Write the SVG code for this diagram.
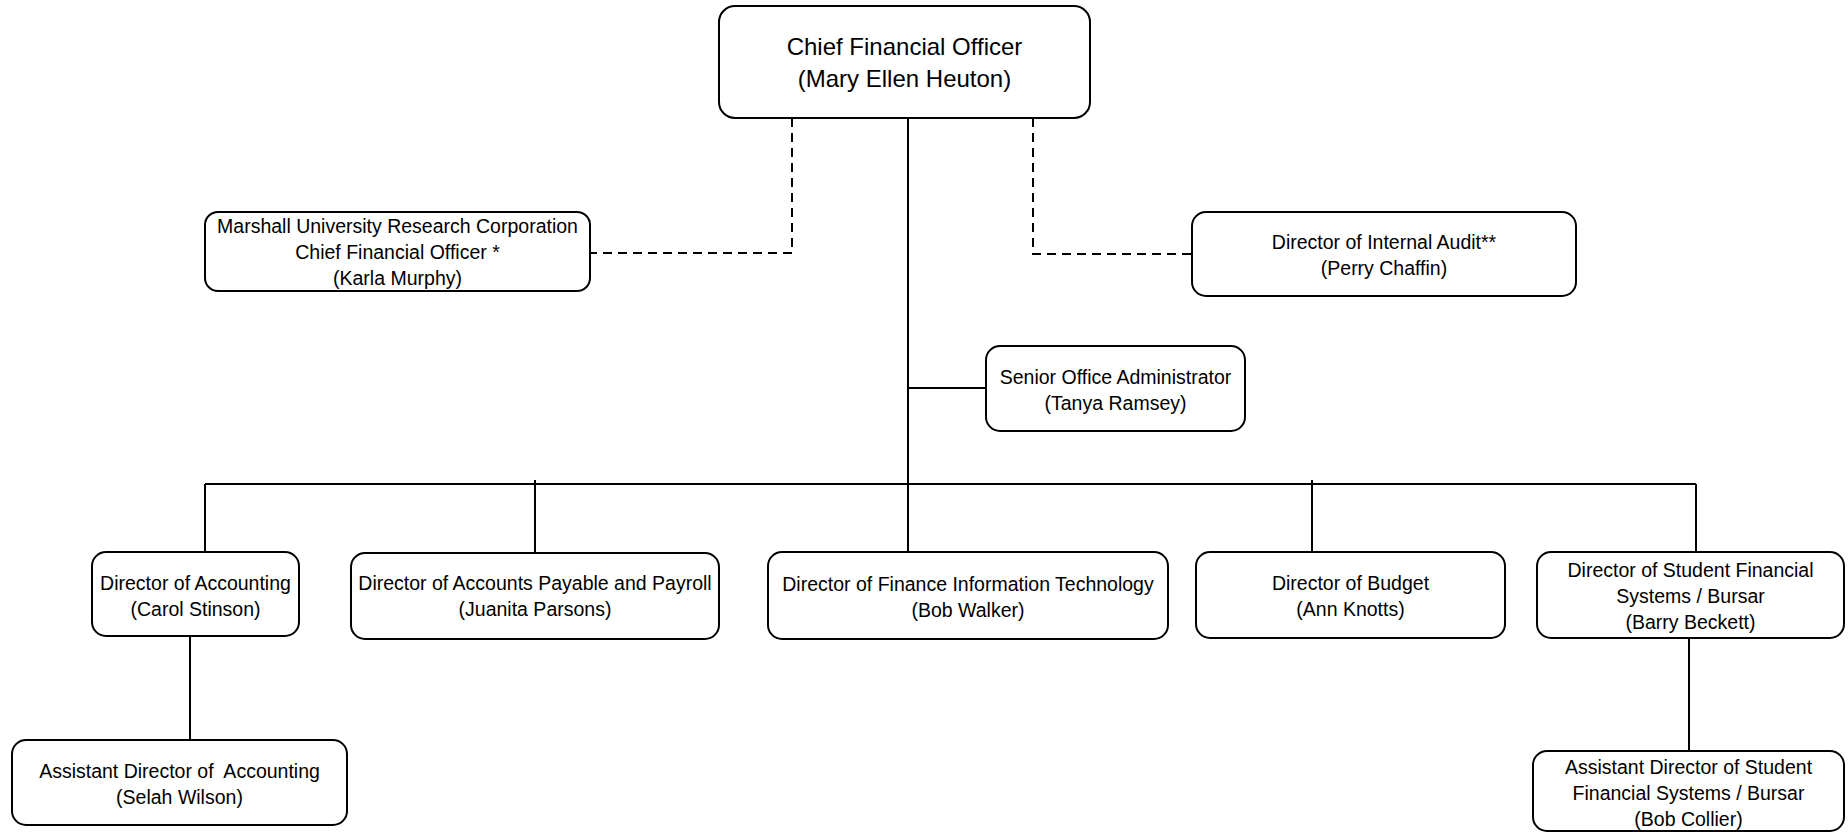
<svg xmlns="http://www.w3.org/2000/svg" width="1848" height="832" viewBox="0 0 1848 832">
<style>
.box{fill:#fff;stroke:#000;stroke-width:2}
.t{font-family:"Liberation Sans",Arial,sans-serif;font-size:19.5px;fill:#000;text-anchor:middle}
.big{font-size:24px}
.c{fill:none;stroke:#000;stroke-width:2}
.d{fill:none;stroke:#000;stroke-width:2;stroke-dasharray:9 6}
</style>
<rect width="1848" height="832" fill="#fff"/>
<g id="connectors">
<path class="c" d="M908,118 V552"/>
<path class="c" d="M908,388 H986"/>
<path class="c" d="M205,484 H1696"/>
<path class="c" d="M205,484 V552"/>
<path class="c" d="M535,480 V553"/>
<path class="c" d="M1312,480 V552"/>
<path class="c" d="M1696,484 V552"/>
<path class="c" d="M190,636 V740"/>
<path class="c" d="M1689,638 V751"/>
<path class="d" d="M792,118 V253 H590"/>
<path class="d" d="M1033,118 V254 H1192"/>
</g>
<g id="cfo">
<rect class="box" x="719" y="6" width="371" height="112" rx="16"/>
<text class="t big" x="904.5" y="55">Chief Financial Officer</text>
<text class="t big" x="904.5" y="87">(Mary Ellen Heuton)</text>
</g>
<g id="murc">
<rect class="box" x="205" y="212" width="385" height="79" rx="13"/>
<text class="t" x="397.5" y="233">Marshall University Research Corporation</text>
<text class="t" x="397.5" y="259">Chief Financial Officer *</text>
<text class="t" x="397.5" y="285">(Karla Murphy)</text>
</g>
<g id="audit">
<rect class="box" x="1192" y="212" width="384" height="84" rx="14"/>
<text class="t" x="1384" y="249">Director of Internal Audit**</text>
<text class="t" x="1384" y="275">(Perry Chaffin)</text>
</g>
<g id="senior">
<rect class="box" x="986" y="346" width="259" height="85" rx="14"/>
<text class="t" x="1115.5" y="384">Senior Office Administrator</text>
<text class="t" x="1115.5" y="410">(Tanya Ramsey)</text>
</g>
<g id="accounting">
<rect class="box" x="92" y="552" width="207" height="84" rx="14"/>
<text class="t" x="195.5" y="590">Director of Accounting</text>
<text class="t" x="195.5" y="616">(Carol Stinson)</text>
</g>
<g id="payable">
<rect class="box" x="351" y="553" width="368" height="86" rx="14"/>
<text class="t" x="535" y="590">Director of Accounts Payable and Payroll</text>
<text class="t" x="535" y="616">(Juanita Parsons)</text>
</g>
<g id="finit">
<rect class="box" x="768" y="552" width="400" height="87" rx="14"/>
<text class="t" x="968" y="591">Director of Finance Information Technology</text>
<text class="t" x="968" y="617">(Bob Walker)</text>
</g>
<g id="budget">
<rect class="box" x="1196" y="552" width="309" height="86" rx="14"/>
<text class="t" x="1350.5" y="590">Director of Budget</text>
<text class="t" x="1350.5" y="616">(Ann Knotts)</text>
</g>
<g id="student">
<rect class="box" x="1537" y="552" width="307" height="86" rx="14"/>
<text class="t" x="1690.5" y="577">Director of Student Financial</text>
<text class="t" x="1690.5" y="603">Systems / Bursar</text>
<text class="t" x="1690.5" y="629">(Barry Beckett)</text>
</g>
<g id="asst-accounting">
<rect class="box" x="12" y="740" width="335" height="85" rx="14"/>
<text class="t" x="179.5" y="778" xml:space="preserve">Assistant Director of  Accounting</text>
<text class="t" x="179.5" y="804">(Selah Wilson)</text>
</g>
<g id="asst-student">
<rect class="box" x="1533" y="751" width="311" height="80" rx="14"/>
<text class="t" x="1688.5" y="774">Assistant Director of Student</text>
<text class="t" x="1688.5" y="800">Financial Systems / Bursar</text>
<text class="t" x="1688.5" y="826">(Bob Collier)</text>
</g>
</svg>
